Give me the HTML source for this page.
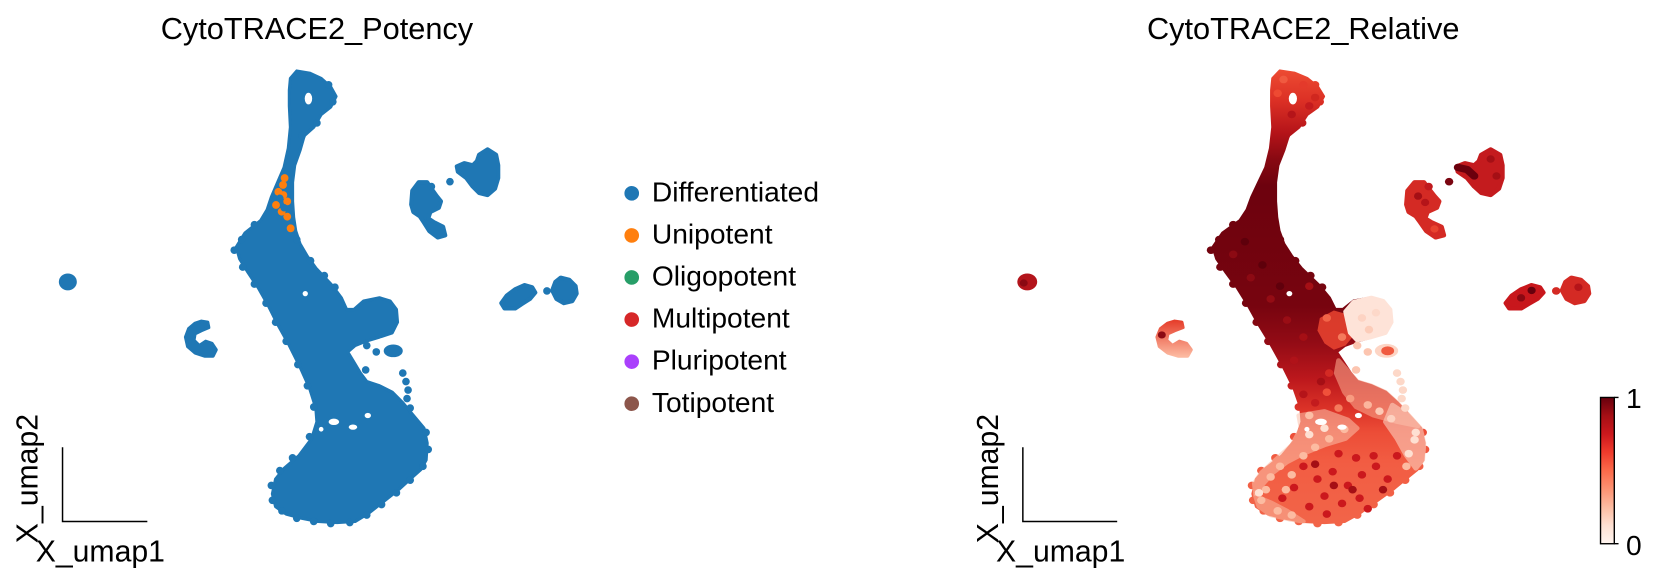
<!DOCTYPE html>
<html>
<head>
<meta charset="utf-8">
<style>
html,body{margin:0;padding:0;background:#fff;}
svg{display:block;}
</style>
</head>
<body>
<svg xmlns="http://www.w3.org/2000/svg" xmlns:xlink="http://www.w3.org/1999/xlink" width="1662" height="584" viewBox="0 0 1568 551" preserveAspectRatio="none" font-family="'Liberation Sans', Arial, sans-serif">
<defs>
  <path id="bd" stroke-width="3" stroke-linejoin="round" d="M280,67 L292,69 303,74 312,82 317,91 312,101 303,108 296,120 287,128 283,142 278,156 276,172 276,190 277,205 279,218 283,230 290,242 298,253 313,269 322,281 327,292 334,292 343,284 358,281 368,284 374,292 375,304 370,314 358,318 345,322 335,326 328,332 334,342 340,352 346,360 358,364 370,370 380,380 390,392 400,404 403,418 402,434 397,443 388,451 376,462 362,473 348,484 335,492 318,493 300,492 285,489 270,485 260,478 257,466 260,452 268,442 282,430 294,414 299,398 298,385 292,366 283,346 272,324 262,306 253,288 244,272 234,257 226,244 223,233 231,220 246,208 252,198 256,186 262,172 268,158 272,140 274,120 273,100 273,85 274,74 Z"/>
  <path id="c2" stroke-width="3" stroke-linejoin="round" d="M190,303 L196,304 197,309 190,312 184,315 183,321 188,326 194,322 200,324 204,330 201,336 193,336 184,333 177,327 175,318 178,310 184,305 Z"/>
  <path id="c3a" stroke-width="4" stroke-linejoin="round" d="M389,180 L395,172 403,172 407,178 412,185 416,190 414,196 406,200 404,206 410,210 418,214 420,222 413,224 405,218 400,210 396,204 390,200 388,193 Z"/>
  <path id="c3b" stroke-width="4" stroke-linejoin="round" d="M452,146 L460,141 468,146 470,156 470,168 467,178 460,184 452,182 446,176 440,168 432,162 431,157 438,154 446,156 450,152 Z"/>
  <path id="c4a" stroke-width="4" stroke-linejoin="round" d="M473,286 L478,279 486,273 495,269 502,271 505,276 500,282 492,287 486,291 476,291 Z"/>
  <path id="c4b" stroke-width="4" stroke-linejoin="round" d="M524,266 L529,262 537,264 543,270 544,277 540,284 532,286 525,282 521,274 Z"/>
  <g id="edgedots">
    <circle cx="221" cy="236" r="3.6"/><circle cx="228" cy="226" r="3.6"/><circle cx="240" cy="212" r="3.6"/>
    <circle cx="229" cy="252" r="3.6"/><circle cx="240" cy="268" r="3.6"/><circle cx="251" cy="286" r="3.6"/>
    <circle cx="260" cy="304" r="3.6"/><circle cx="270" cy="322" r="3.6"/><circle cx="281" cy="344" r="3.6"/>
    <circle cx="290" cy="364" r="3.6"/><circle cx="296" cy="384" r="3.6"/><circle cx="292" cy="412" r="3.6"/>
    <circle cx="276" cy="432" r="3.6"/><circle cx="264" cy="444" r="3.6"/><circle cx="256" cy="458" r="3.6"/>
    <circle cx="257" cy="472" r="3.6"/><circle cx="266" cy="482" r="3.6"/><circle cx="280" cy="489" r="3.6"/>
    <circle cx="296" cy="492" r="3.6"/><circle cx="312" cy="494" r="3.6"/><circle cx="330" cy="493" r="3.6"/>
    <circle cx="346" cy="486" r="3.6"/><circle cx="360" cy="476" r="3.6"/><circle cx="374" cy="465" r="3.6"/>
    <circle cx="387" cy="453" r="3.6"/><circle cx="399" cy="440" r="3.6"/><circle cx="404" cy="424" r="3.6"/>
    <circle cx="402" cy="408" r="3.6"/><circle cx="316" cy="271" r="3.6"/><circle cx="306" cy="260" r="3.6"/>
    <circle cx="293" cy="246" r="3.6"/><circle cx="280" cy="226" r="3.6"/><circle cx="285" cy="128" r="3.6"/>
    <circle cx="299" cy="116" r="3.6"/><circle cx="314" cy="96" r="3.6"/><circle cx="310" cy="80" r="3.6"/>
  </g>
  <g id="holes" fill="#fff">
    <ellipse cx="291" cy="93" rx="3.5" ry="5.5"/>
    <circle cx="288" cy="277" r="2.5"/>
    <ellipse cx="315" cy="398" rx="5" ry="3"/>
    <ellipse cx="333" cy="403" rx="4" ry="2.5"/>
    <ellipse cx="347" cy="392" rx="3" ry="2.5"/>
    <circle cx="303" cy="405" r="2.2"/>
  </g>
  <linearGradient id="gR" gradientUnits="userSpaceOnUse" x1="0" y1="67" x2="0" y2="493">
    <stop offset="0" stop-color="#ec4a32"/>
    <stop offset="0.066" stop-color="#dc3025"/>
    <stop offset="0.136" stop-color="#b51419"/>
    <stop offset="0.195" stop-color="#880912"/>
    <stop offset="0.254" stop-color="#6d020e"/>
    <stop offset="0.52" stop-color="#77040f"/>
    <stop offset="0.60" stop-color="#920b15"/>
    <stop offset="0.68" stop-color="#bb171c"/>
    <stop offset="0.75" stop-color="#dc3328"/>
    <stop offset="0.80" stop-color="#ec4d37"/>
    <stop offset="0.87" stop-color="#f25d43"/>
    <stop offset="1" stop-color="#f26448"/>
  </linearGradient>
  <linearGradient id="gC2" gradientUnits="userSpaceOnUse" x1="0" y1="303" x2="0" y2="336">
    <stop offset="0" stop-color="#e6402d"/>
    <stop offset="1" stop-color="#fcb9a0"/>
  </linearGradient>
  <linearGradient id="cb" x1="0" y1="0" x2="0" y2="1">
    <stop offset="0" stop-color="#67000d"/>
    <stop offset="0.125" stop-color="#a50f15"/>
    <stop offset="0.25" stop-color="#cb181d"/>
    <stop offset="0.375" stop-color="#ef3b2c"/>
    <stop offset="0.5" stop-color="#fb6a4a"/>
    <stop offset="0.625" stop-color="#fc9272"/>
    <stop offset="0.75" stop-color="#fcbba1"/>
    <stop offset="0.875" stop-color="#fee0d2"/>
    <stop offset="1" stop-color="#fff5f0"/>
  </linearGradient>
</defs>

<!-- ============ LEFT PANEL ============ -->
<text x="299" y="37" font-size="29" text-anchor="middle" fill="#000">CytoTRACE2_Potency</text>

<g fill="#1f77b4" stroke="#1f77b4">
  <use href="#bd" xlink:href="#bd"/>
  <use href="#c2" xlink:href="#c2"/>
  <use href="#c3a" xlink:href="#c3a"/>
  <use href="#c3b" xlink:href="#c3b"/>
  <use href="#c4a" xlink:href="#c4a"/>
  <use href="#c4b" xlink:href="#c4b"/>
</g>
<use href="#edgedots" xlink:href="#edgedots" fill="#1f77b4"/>
<g fill="#1f77b4">
  <ellipse cx="64" cy="266" rx="8.5" ry="8"/>
  <circle cx="407" cy="176" r="3.6"/>
  <circle cx="424.5" cy="171.4" r="3.6"/>
  <circle cx="516" cy="274.5" r="3.6"/>
  <ellipse cx="371" cy="331" rx="9" ry="6"/>
  <circle cx="380" cy="352" r="3.6"/>
  <circle cx="383" cy="360" r="3.6"/>
  <circle cx="385" cy="368" r="3.6"/>
  <circle cx="384" cy="376" r="3.6"/>
  <circle cx="387" cy="385" r="3.6"/>
  <circle cx="345" cy="349" r="3.6"/>
  <circle cx="355" cy="332" r="3.6"/>
  <circle cx="346" cy="326" r="3.6"/>
</g>
<use href="#holes" xlink:href="#holes"/>
<g fill="#ff7f0e">
  <circle cx="268.5" cy="168" r="3.7"/>
  <circle cx="267" cy="174.5" r="3.7"/>
  <circle cx="262.6" cy="181" r="3.7"/>
  <circle cx="267.3" cy="184" r="3.7"/>
  <circle cx="271" cy="190" r="3.7"/>
  <circle cx="260.4" cy="193.4" r="3.7"/>
  <circle cx="265.7" cy="199.7" r="3.7"/>
  <circle cx="271" cy="204.4" r="3.7"/>
  <circle cx="274.2" cy="215.4" r="3.7"/>
</g>
<g fill="#1f77b4">
  <circle cx="264" cy="187" r="3.5"/>
  <circle cx="268" cy="196" r="3.5"/>
</g>

<!-- legend -->
<g font-size="26.6" fill="#000">
  <circle cx="596" cy="182.4" r="6.9" fill="#1f77b4"/>
  <text x="615" y="190">Differentiated</text>
  <circle cx="596" cy="222.1" r="6.9" fill="#ff7f0e"/>
  <text x="615" y="229.7">Unipotent</text>
  <circle cx="596" cy="261.8" r="6.9" fill="#279e68"/>
  <text x="615" y="269.4">Oligopotent</text>
  <circle cx="596" cy="301.5" r="6.9" fill="#d62728"/>
  <text x="615" y="309.1">Multipotent</text>
  <circle cx="596" cy="341.2" r="6.9" fill="#aa40fc"/>
  <text x="615" y="348.8">Pluripotent</text>
  <circle cx="596" cy="380.9" r="6.9" fill="#8c564b"/>
  <text x="615" y="388.5">Totipotent</text>
</g>

<!-- left axes -->
<path d="M59,422 V492 H139" fill="none" stroke="#000" stroke-width="1.4"/>
<text x="33.7" y="530" font-size="28.5" fill="#000">X_umap1</text>
<text transform="translate(35.5,512.5) rotate(-90)" font-size="28.5" fill="#000">X_umap2</text>

<!-- ============ RIGHT PANEL ============ -->
<text x="1229.5" y="37" font-size="29" text-anchor="middle" fill="#000">CytoTRACE2_Relative</text>

<g transform="matrix(1.104 0 0 1 898.5 0)">
  <use href="#bd" xlink:href="#bd" fill="url(#gR)" stroke="url(#gR)"/>
  <use href="#edgedots" xlink:href="#edgedots" fill="url(#gR)"/>
  <!-- top loop speckle -->
  <g>
    <circle cx="283" cy="75" r="3.6" fill="#f05a40"/>
    <circle cx="300" cy="80" r="3.6" fill="#e43a2b"/>
    <circle cx="310" cy="92" r="3.6" fill="#d0271f"/>
    <circle cx="290" cy="108" r="3.6" fill="#b51419"/>
    <circle cx="278" cy="88" r="3.6" fill="#ee4a32"/>
    <circle cx="305" cy="100" r="3.6" fill="#c41b1e"/>
  </g>
  <!-- upper arm speckle -->
  <g>
    <circle cx="240" cy="240" r="3.6" fill="#8c0a13"/>
    <circle cx="255" cy="262" r="3.6" fill="#8c0a13"/>
    <circle cx="272" cy="282" r="3.6" fill="#940c14"/>
    <circle cx="286" cy="302" r="3.6" fill="#9a0d15"/>
    <circle cx="300" cy="318" r="3.6" fill="#a50f15"/>
    <circle cx="292" cy="340" r="3.6" fill="#b01219"/>
    <circle cx="250" cy="228" r="3.6" fill="#5e000b"/>
    <circle cx="265" cy="250" r="3.6" fill="#5e000b"/>
    <circle cx="280" cy="270" r="3.6" fill="#60000c"/>
    <circle cx="305" cy="270" r="3.6" fill="#a50f15"/>
  </g>
  <!-- band to sub-blob -->
  <path d="M314,300 L326,293 336,296 342,306 342,318 336,326 326,330 318,324 312,312 Z" fill="#ea4430" opacity="0.85"/>
  <circle cx="320" cy="300" r="3.6" fill="#f26448"/>
  <circle cx="333" cy="318" r="3.6" fill="#f57a5c"/>
  <!-- sub-blob light -->
  <path d="M336,294 L343,285 358,281 368,284 374,292 375,304 370,314 358,318 346,321 340,314 Z" fill="#fee3d8" stroke="#fee3d8" stroke-width="4" stroke-linejoin="round"/>
  <circle cx="350" cy="300" r="3.6" fill="#fdd3c3"/>
  <circle cx="362" cy="295" r="3.6" fill="#fdd8c9"/>
  <circle cx="356" cy="311" r="3.6" fill="#fcccb9"/>
  <!-- lower arm right side lighter -->
  <path d="M330,340 L346,360 358,364 370,370 380,380 390,392 398,402 380,398 360,392 345,384 335,370 328,352 Z" fill="#f9a389" stroke="#f9a389" stroke-width="4" stroke-linejoin="round" opacity="0.6"/>
  <g>
    <circle cx="300" cy="372" r="3.6" fill="#b51419"/>
    <circle cx="310" cy="380" r="3.6" fill="#c31b1e"/>
    <circle cx="320" cy="370" r="3.6" fill="#f0503a"/>
    <circle cx="330" cy="385" r="3.6" fill="#f57a5c"/>
    <circle cx="340" cy="376" r="3.6" fill="#f89b80"/>
    <circle cx="355" cy="382" r="3.6" fill="#fcb59d"/>
    <circle cx="365" cy="388" r="3.6" fill="#fdc9b5"/>
    <circle cx="375" cy="395" r="3.6" fill="#fdd3c2"/>
    <circle cx="305" cy="392" r="3.6" fill="#fcbba1"/>
    <circle cx="315" cy="360" r="3.6" fill="#a50f15"/>
    <circle cx="322" cy="352" r="3.6" fill="#d42a24"/>
  </g>
  <!-- bottom blob overlays -->
  <path d="M296,392 L318,388 338,396 346,404 336,414 318,420 300,428 286,436 274,446 266,456 259,466 258,456 264,446 276,434 290,420 298,404 Z" fill="#fcc1aa" stroke="#fcc1aa" stroke-width="4" stroke-linejoin="round" opacity="0.55"/>
  <path d="M376,382 L390,392 400,404 403,418 402,434 396,442 388,430 380,414 370,398 Z" fill="#fdd0bf" stroke="#fdd0bf" stroke-width="4" stroke-linejoin="round" opacity="0.6"/>
  <path d="M259,468 L262,478 272,486 288,490 300,492 286,482 272,474 Z" fill="#fbb69e" stroke="#fbb69e" stroke-width="4" stroke-linejoin="round" opacity="0.55"/>
  <g fill="#cb181d">
    <circle cx="300" cy="440" r="3.6"/><circle cx="312" cy="452" r="3.6"/><circle cx="325" cy="445" r="3.6"/>
    <circle cx="338" cy="458" r="3.6"/><circle cx="350" cy="448" r="3.6"/><circle cx="362" cy="440" r="3.6"/>
    <circle cx="372" cy="452" r="3.6"/><circle cx="318" cy="468" r="3.6"/><circle cx="333" cy="475" r="3.6"/>
    <circle cx="348" cy="470" r="3.6"/><circle cx="292" cy="460" r="3.6"/><circle cx="305" cy="478" r="3.6"/>
    <circle cx="360" cy="430" r="3.6"/><circle cx="345" cy="432" r="3.6"/><circle cx="330" cy="428" r="3.6"/>
    <circle cx="380" cy="430" r="3.6"/><circle cx="282" cy="470" r="3.6"/><circle cx="320" cy="485" r="3.6"/>
    <circle cx="355" cy="480" r="3.6"/>
  </g>
  <g fill="#a50f15">
    <circle cx="310" cy="438" r="3.6"/><circle cx="342" cy="462" r="3.6"/><circle cx="368" cy="462" r="3.6"/><circle cx="326" cy="458" r="3.6"/>
  </g>
  <g fill="#fcbba1">
    <circle cx="268" cy="462" r="3.6"/><circle cx="272" cy="450" r="3.6"/><circle cx="280" cy="440" r="3.6"/>
    <circle cx="264" cy="472" r="3.6"/><circle cx="278" cy="482" r="3.6"/><circle cx="290" cy="486" r="3.6"/>
    <circle cx="300" cy="430" r="3.6"/><circle cx="310" cy="422" r="3.6"/><circle cx="322" cy="414" r="3.6"/>
    <circle cx="335" cy="405" r="3.6"/><circle cx="290" cy="448" r="3.6"/><circle cx="285" cy="462" r="3.6"/>
    <circle cx="388" cy="440" r="3.6"/>
  </g>
  <g fill="#fee0d2">
    <circle cx="305" cy="410" r="3.6"/><circle cx="318" cy="404" r="3.6"/><circle cx="262" cy="465" r="3.6"/>
    <circle cx="395" cy="415" r="3.6"/><circle cx="390" cy="428" r="3.6"/><circle cx="396" cy="408" r="3.6"/>
  </g>
  <use href="#holes" xlink:href="#holes"/>
  <!-- right lobe scattered light dots -->
  <g fill="#fdd8c8">
    <circle cx="380" cy="352" r="3.6"/><circle cx="383" cy="360" r="3.6"/><circle cx="385" cy="368" r="3.6"/>
    <circle cx="384" cy="376" r="3.6"/><circle cx="387" cy="385" r="3.6"/>
  </g>
  <g fill="#fcc5b0">
    <circle cx="345" cy="349" r="3.6"/><circle cx="355" cy="332" r="3.6"/><circle cx="346" cy="326" r="3.6"/>
  </g>
  <ellipse cx="371" cy="331" rx="10" ry="6.5" fill="#fdd5c5"/>
  <ellipse cx="372" cy="331" rx="5.5" ry="4.2" fill="#f05a40"/>
  <!-- other clusters -->
  <ellipse cx="64" cy="266" rx="8.5" ry="8" fill="#b3141b"/>
  <circle cx="61" cy="267" r="3.4" fill="#8a0812"/>
  <use href="#c2" xlink:href="#c2" fill="url(#gC2)" stroke="url(#gC2)"/>
  <circle cx="179" cy="316" r="3.4" fill="#8c0a13"/>
  <use href="#c3a" xlink:href="#c3a" fill="#d42a24" stroke="#d42a24"/>
  <circle cx="398" cy="185" r="3.5" fill="#a50f15"/>
  <circle cx="404" cy="191" r="3.5" fill="#b51419"/>
  <circle cx="412" cy="216" r="3.5" fill="#e8432f"/>
  <use href="#c3b" xlink:href="#c3b" fill="#c41b1e" stroke="#c41b1e"/>
  <path d="M432,158 L440,160 446,166" fill="none" stroke="#6b000d" stroke-width="7" stroke-linecap="round" stroke-linejoin="round"/>
  <circle cx="460" cy="150" r="3.5" fill="#a50f15"/>
  <circle cx="465" cy="166" r="3.5" fill="#a50f15"/>
  <circle cx="407" cy="176" r="3.6" fill="#c01a1e"/>
  <circle cx="424.5" cy="171.4" r="3.6" fill="#7a0510"/>
  <use href="#c4a" xlink:href="#c4a" fill="#c8171c" stroke="#c8171c"/>
  <circle cx="486" cy="281" r="3.5" fill="#8a0812"/>
  <circle cx="495" cy="274" r="3.5" fill="#67000d"/>
  <circle cx="516" cy="274.5" r="3.6" fill="#d42a24"/>
  <use href="#c4b" xlink:href="#c4b" fill="#d42a24" stroke="#d42a24"/>
  <circle cx="535" cy="271" r="3.5" fill="#b51419"/>
</g>

<!-- right axes -->
<path d="M965,422 V492 H1054" fill="none" stroke="#000" stroke-width="1.4"/>
<text x="939.7" y="530" font-size="28.5" fill="#000">X_umap1</text>
<text transform="translate(941.5,512.5) rotate(-90)" font-size="28.5" fill="#000">X_umap2</text>

<!-- colorbar -->
<rect x="1510" y="375" width="13" height="138" fill="url(#cb)" stroke="#000" stroke-width="1.3"/>
<path d="M1523,375 H1527 M1523,513 H1527" stroke="#000" stroke-width="1.3"/>
<text x="1534" y="385" font-size="26.6" fill="#000">1</text>
<text x="1534" y="523.5" font-size="26.6" fill="#000">0</text>
</svg>
</body>
</html>
